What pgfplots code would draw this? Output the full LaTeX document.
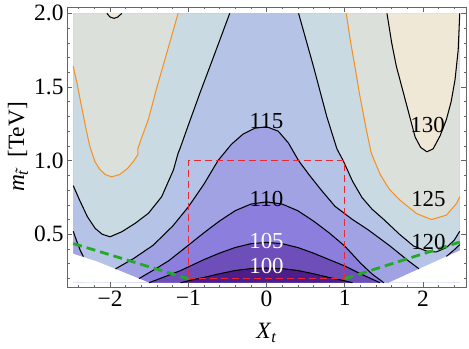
\documentclass[border=0pt]{standalone}
\usepackage{fontspec}
\setmainfont{Liberation Serif}
\usepackage{pgfplots}
\pgfplotsset{compat=1.18}
\usepackage{pgfplotstable}
\usetikzlibrary{calc}

% contour fill colours, low to high
\definecolor{cL}{RGB}{78,29,138}
\definecolor{cA}{RGB}{110,79,186}
\definecolor{cB}{RGB}{139,126,220}
\definecolor{cC}{RGB}{160,162,227}
\definecolor{cD}{RGB}{181,195,230}
\definecolor{cE}{RGB}{201,218,227}
\definecolor{cF}{RGB}{220,224,219}
\definecolor{cG}{RGB}{240,232,215}
\definecolor{orng}{RGB}{245,145,35}
\definecolor{grn}{RGB}{35,170,35}
\definecolor{rd}{RGB}{232,40,50}

% contour lines (X_t, m_stop)
\pgfplotstableread{
x y
-1.10 0.171
-0.95 0.190
-0.80 0.207
-0.60 0.232
-0.40 0.254
-0.20 0.267
0.00 0.271
0.20 0.267
0.40 0.254
0.60 0.232
0.80 0.207
0.95 0.190
1.10 0.171
}\cHundred

\pgfplotstableread{
x y
-1.50 0.171
-1.30 0.212
-1.10 0.253
-1.00 0.278
-0.80 0.328
-0.60 0.372
-0.40 0.410
-0.20 0.436
0.00 0.445
0.20 0.436
0.40 0.410
0.60 0.372
0.80 0.328
1.00 0.285
1.20 0.232
1.45 0.171
}\cHundredFive

\pgfplotstableread{
x y
-1.63 0.199
-1.45 0.255
-1.25 0.320
-1.00 0.425
-0.80 0.510
-0.60 0.590
-0.40 0.660
-0.20 0.705
0.00 0.720
0.20 0.705
0.40 0.660
0.60 0.590
0.80 0.510
1.00 0.420
1.20 0.305
1.35 0.230
1.50 0.171
}\cHundredTen

\pgfplotstableread{
x y
-1.93 0.265
-1.70 0.335
-1.45 0.425
-1.20 0.555
-1.00 0.685
-0.80 0.840
-0.62 1.000
-0.45 1.110
-0.30 1.180
-0.15 1.220
0.00 1.230
0.15 1.200
0.28 1.120
0.41 1.000
0.55 0.900
0.70 0.800
0.875 0.690
1.10 0.600
1.30 0.530
1.58 0.420
1.80 0.325
1.95 0.265
}\cHundredFifteen

\pgfplotstableread{
x y
-2.47 0.520
-2.43 0.460
-2.38 0.390
-2.34 0.348
}\cHundredFifteenL

\pgfplotstableread{
x y
2.30 0.350
2.39 0.390
2.47 0.430
}\cHundredFifteenR

\pgfplotstableread{
x y
-0.47 2.000
-0.68 1.700
-0.85 1.460
-1.02 1.210
-1.10 1.090
-1.13 1.050
-1.19 0.936
-1.34 0.755
-1.51 0.642
-1.68 0.574
-1.85 0.517
-2.00 0.483
-2.10 0.500
-2.19 0.540
-2.29 0.620
-2.39 0.733
-2.47 0.830
}\cTwentyL

\pgfplotstableread{
x y
0.41 2.000
0.60 1.640
0.77 1.300
0.90 1.080
0.98 1.000
1.10 0.860
1.22 0.750
1.35 0.670
1.50 0.600
1.70 0.500
1.88 0.420
2.05 0.385
2.17 0.380
2.30 0.410
2.40 0.460
2.47 0.520
}\cTwentyR

\pgfplotstableread{
x y
-2.47 1.640
-2.42 1.520
-2.38 1.410
-2.32 1.250
-2.26 1.100
-2.19 0.990
-2.13 0.940
-2.06 0.905
-1.98 0.890
-1.88 0.905
-1.78 0.945
-1.70 0.995
-1.645 1.040
-1.645 1.080
-1.60 1.150
-1.51 1.280
-1.40 1.500
-1.275 1.730
-1.13 2.000
}\cTwentyFiveL

\pgfplotstableread{
x y
1.02 2.000
1.07 1.820
1.13 1.640
1.19 1.450
1.28 1.200
1.34 1.050
1.45 0.910
1.54 0.830
1.58 0.800
1.71 0.730
1.92 0.640
2.11 0.600
2.30 0.630
2.43 0.710
2.47 0.755
}\cTwentyFiveR

\pgfplotstableread{
x y
-2.04 2.000
-2.00 1.975
-1.95 1.966
-1.90 1.975
-1.85 2.000
}\cThirtyL

\pgfplotstableread{
x y
1.54 2.000
1.60 1.800
1.66 1.640
1.75 1.460
1.83 1.300
1.90 1.160
1.97 1.090
2.05 1.060
2.13 1.080
2.22 1.170
2.30 1.280
2.36 1.400
2.41 1.550
2.45 1.750
2.47 2.000
}\cThirtyR

\begin{document}
\begin{tikzpicture}
\begin{axis}[
    scale only axis,
    width=399bp, height=280bp,
    xmin=-2.55, xmax=2.55,
    ymin=0.142, ymax=2.043,
    axis on top,
    tick align=inside,
    xtick={-2,-1,0,1,2},
    xticklabels={−2,−1,0,1,2},
    ytick={0.5,1,1.5,2},
    yticklabels={0.5,1.0,1.5,2.0},
    minor xtick={-2.4,-2.2,-1.8,-1.6,-1.4,-1.2,-0.8,-0.6,-0.4,-0.2,0.2,0.4,0.6,0.8,1.2,1.4,1.6,1.8,2.2,2.4},
    minor ytick={0.2,0.3,0.4,0.6,0.7,0.8,0.9,1.1,1.2,1.3,1.4,1.6,1.7,1.8,1.9},
    major tick length=5bp,
    minor tick length=2.5bp,
    tick style={black!60, line width=0.5pt},
    axis line style={black!60, line width=0.6pt},
    tick label style={font=\fontsize{23.5}{27}\selectfont, text=black},
    label style={font=\fontsize{23.5}{27}\selectfont},
    xlabel={\textit{X}\textsubscript{\textit{t}}},
    ylabel={\textit{m}\textsubscript{\textit{\~t}}\ [TeV]},
    xlabel style={at={(axis description cs:0.5,-0.164)}, anchor=center},
    ylabel style={at={(axis description cs:-0.123,0.5)}, anchor=center},
]
\coordinate (sw) at (rel axis cs:0,0);
\coordinate (ne) at (rel axis cs:1,1);

% base: 115-120
\addplot[fill=cD, draw=none] coordinates {(-2.47,0.171) (2.47,0.171) (2.47,2.0) (-2.47,2.0)} -- cycle;

% above 120
\addplot[fill=cE, draw=none] table {\cTwentyL} -- (axis cs:-2.47,2.0) -- cycle;
\addplot[fill=cE, draw=none] table {\cTwentyR} -- (axis cs:2.47,2.0) -- cycle;
% above 125
\addplot[fill=cF, draw=none] table {\cTwentyFiveL} -- (axis cs:-2.47,2.0) -- cycle;
\addplot[fill=cF, draw=none] table {\cTwentyFiveR} -- (axis cs:2.47,2.0) -- cycle;
% above 130
\addplot[fill=cG, draw=none] table {\cThirtyL} -- cycle;
\addplot[fill=cG, draw=none] table {\cThirtyR} -- cycle;

% below 115
\addplot[fill=cC, draw=none] table {\cHundredFifteen} -- (axis cs:1.95,0.171) -- (axis cs:-1.93,0.171) -- cycle;
\addplot[fill=cC, draw=none] table {\cHundredFifteenL} -- (axis cs:-2.34,0.171) -- (axis cs:-2.47,0.171) -- cycle;
\addplot[fill=cC, draw=none] table {\cHundredFifteenR} -- (axis cs:2.47,0.171) -- (axis cs:2.30,0.171) -- cycle;
% below 110, 105, 100
\addplot[fill=cB, draw=none] table {\cHundredTen} -- (axis cs:-1.63,0.171) -- cycle;
\addplot[fill=cA, draw=none] table {\cHundredFive} -- cycle;
\addplot[fill=cL, draw=none] table {\cHundred} -- cycle;

% no data below the cut
\addplot[fill=white, draw=none] coordinates {(-2.5,0.3725) (-2.16,0.314) (-1.5,0.171) (-2.5,0.171)} -- cycle;
\addplot[fill=white, draw=none] coordinates {(1.56,0.171) (2.5,0.397) (2.5,0.171)} -- cycle;

% contour lines
\pgfplotsset{cline/.style={black, line width=1.05pt, line join=round}}
\addplot[cline] table {\cHundred};
\addplot[cline] table {\cHundredFive};
\addplot[cline] table {\cHundredTen};
\addplot[cline] table {\cHundredFifteen};
\addplot[cline] table {\cHundredFifteenL};
\addplot[cline] table {\cHundredFifteenR};
\addplot[cline] table {\cTwentyL};
\addplot[cline] table {\cTwentyR};
\addplot[cline, orng] table {\cTwentyFiveL};
\addplot[cline, orng] table {\cTwentyFiveR};
\addplot[cline] table {\cThirtyL};
\addplot[cline] table {\cThirtyR};

% box and cut lines
\addplot[rd, line width=1.3pt, dash pattern=on 7bp off 4bp] coordinates {(-1,0.198) (1,0.198) (1,1) (-1,1) (-1,0.198)};
\addplot[grn, line width=2.8pt, dash pattern=on 9bp off 5bp] coordinates {(-2.47,0.437) (-1,0.198)};
\addplot[grn, line width=2.8pt, dash pattern=on 9bp off 5bp] coordinates {(1,0.198) (2.47,0.447)};

% contour labels
\node[font=\fontsize{23}{26}\selectfont] at (axis cs:0,1.27) {115};
\node[font=\fontsize{23}{26}\selectfont] at (axis cs:0,0.74) {110};
\node[font=\fontsize{23}{26}\selectfont, text=white] at (axis cs:0,0.455) {105};
\node[font=\fontsize{23}{26}\selectfont, text=white] at (axis cs:0,0.286) {100};
\node[font=\fontsize{23}{26}\selectfont] at (axis cs:2.07,0.445) {120};
\node[font=\fontsize{23}{26}\selectfont] at (axis cs:2.07,0.74) {125};
\node[font=\fontsize{23}{26}\selectfont] at (axis cs:2.06,1.24) {130};
\end{axis}
\pgfresetboundingbox
\path[use as bounding box] ($(sw)+(-67bp,-62bp)$) rectangle ($(ne)+(3bp,7bp)$);
\end{tikzpicture}
\end{document}
